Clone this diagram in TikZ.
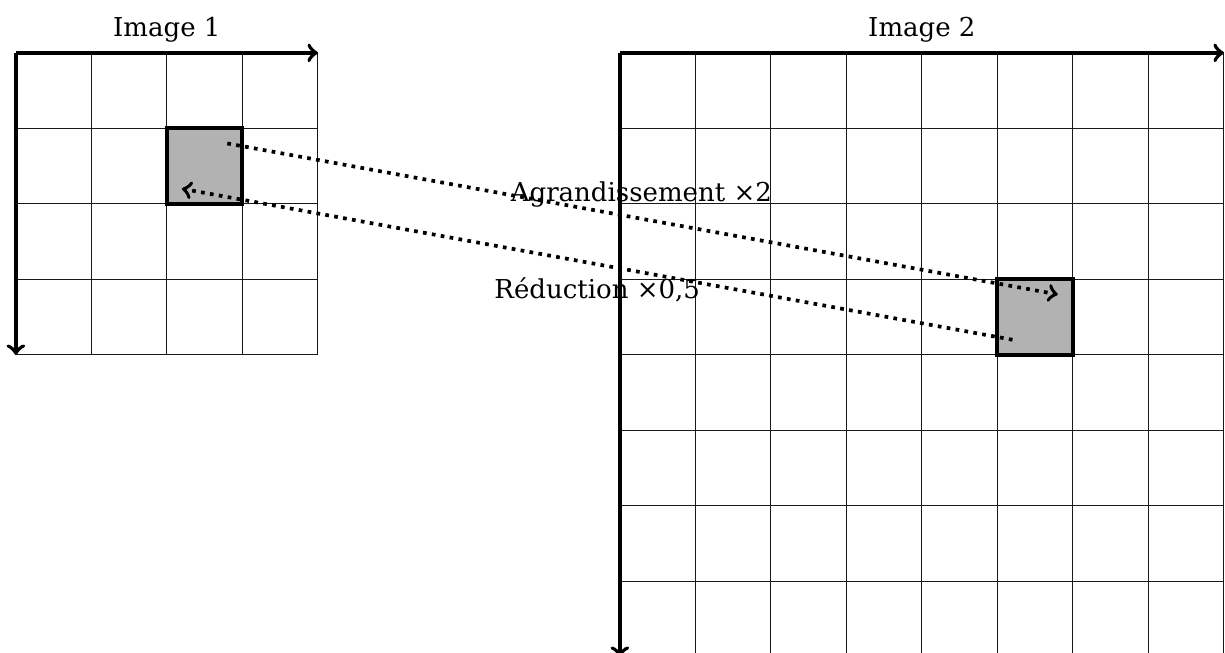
\documentclass[tikz,border=0pt]{standalone}
\usepackage{fontspec}
\setmainfont{DejaVu Serif}
\tikzset{
  gridline/.style={line width=0.45pt, black!90},
  axis/.style={line width=1.5pt, ->},
  cellbox/.style={line width=1.5pt, fill=gray!60},
  link/.style={line width=1.4pt, dotted, ->},
  lbl/.style={font=\fontsize{9.8}{12}\selectfont, inner sep=0pt},
}
\begin{document}
\begin{tikzpicture}
\useasboundingbox (-0.21,0.70) rectangle (16.015,-7.936);
% grid 1
\draw[gridline] (0,0) grid (4,-4);
\draw[cellbox] (2,-1) rectangle (3,-2);
\draw[axis] (0,0) -- (4,0);
\draw[axis] (0,0) -- (0,-4);
\node[lbl, anchor=base] (t1) at (2,0.22) {Image 1};
% grid 2
\draw[gridline] (8,0) grid (16,-8);
\draw[cellbox] (13,-3) rectangle (14,-4);
\draw[axis] (8,0) -- (16,0);
\draw[axis] (8,0) -- (8,-8);
\node[lbl, anchor=base] (t2) at (12,0.22) {Image 2};
% links
\coordinate (s1) at (2.8,-1.2);
\coordinate (e1) at (13.8,-3.2);
\coordinate (s2) at (13.2,-3.8);
\coordinate (e2) at (2.2,-1.8);
\draw[link] (s1) -- (e1);
\draw[link] (s2) -- (e2);
\node[lbl, anchor=base] (la) at (8.285,-1.97) {Agrandissement ×2};
\node[lbl, anchor=base] (lr) at (7.70,-3.25) {Réduction ×0,5};
\end{tikzpicture}
\end{document}
